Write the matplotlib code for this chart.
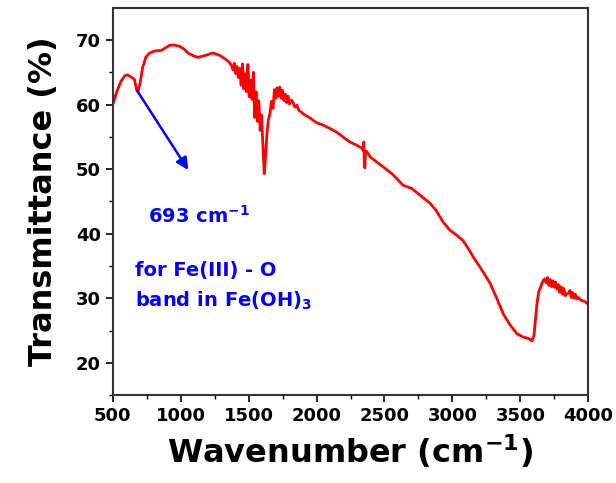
import numpy as np
import matplotlib
matplotlib.use("Agg")
import matplotlib.pyplot as plt

# FTIR spectrum (wavenumber cm-1, transmittance %)
wn = [500, 530, 560, 590, 610, 640, 660, 675, 685, 700, 721, 745, 773, 810, 859,
      890, 920, 960, 994, 1025, 1053, 1090, 1126, 1180, 1237, 1290, 1338,
      1360, 1375, 1385, 1395, 1405, 1415, 1425, 1435, 1445, 1455, 1465, 1475,
      1485, 1495, 1505, 1515, 1525, 1535, 1545, 1555, 1565, 1575, 1585, 1595,
      1605, 1615, 1625, 1635, 1645, 1657, 1668, 1680, 1690, 1700, 1710, 1720,
      1730, 1740, 1750, 1760, 1770, 1780, 1790, 1800, 1815, 1826, 1840, 1855,
      1870, 1885, 1900, 1920, 1940, 1960, 1974, 2000, 2050, 2099, 2150, 2200,
      2246, 2296, 2320, 2335, 2343, 2348, 2352, 2356, 2360, 2366, 2380, 2394,
      2450, 2500, 2560, 2637, 2701, 2760, 2836, 2880, 2932, 2983, 3030, 3079,
      3120, 3153, 3204, 3240, 3278, 3330, 3374, 3420, 3475, 3520, 3555, 3573,
      3585, 3600, 3610, 3622, 3635, 3647, 3659, 3670, 3680, 3690, 3700, 3710,
      3720, 3730, 3740, 3750, 3760, 3770, 3780, 3790, 3800, 3810, 3820, 3830,
      3843, 3855, 3865, 3875, 3885, 3895, 3905, 3917, 3930, 3945, 3960, 3975,
      3990, 4000]
trans = [60.0, 62.0, 63.6, 64.5, 64.6, 64.2, 63.9, 62.3, 62.0, 63.2, 65.8, 67.4,
         68.0, 68.3, 68.4, 68.8, 69.2, 69.2, 69.0, 68.6, 68.0, 67.6, 67.3, 67.6,
         68.0, 67.6, 66.9, 66.5, 66.0, 65.4, 66.4, 64.8, 65.9, 64.2, 65.6, 63.0,
         66.3, 62.4, 64.8, 62.0, 66.2, 61.2, 63.8, 60.8, 65.0, 58.0, 62.0, 57.4,
         60.6, 56.0, 58.4, 54.0, 49.3, 52.0, 55.5, 57.6, 58.6, 60.5, 59.4, 62.3,
         61.0, 62.6, 61.3, 62.7, 61.0, 62.2, 60.6, 61.6, 60.3, 61.3, 60.1, 60.7,
         60.4, 59.6, 59.9, 59.1, 58.9, 58.6, 58.3, 58.1, 57.8, 57.6, 57.2, 56.8,
         56.3, 55.7, 54.9, 54.2, 53.7, 53.4, 53.3, 52.9, 54.2, 50.5, 50.2, 52.4,
         52.8, 52.4, 51.9, 51.0, 50.2, 49.2, 47.5, 47.0, 46.0, 44.7, 43.6, 41.8,
         40.5, 39.8, 38.9, 37.6, 36.4, 34.8, 33.6, 32.3, 29.8, 27.6, 26.0, 24.5,
         24.0, 23.8, 23.6, 23.4, 24.2, 26.5, 29.1, 31.0, 31.6, 32.3, 32.8, 33.0,
         32.4, 33.2, 32.0, 32.9, 31.8, 32.7, 31.7, 32.5, 31.4, 32.1, 30.9, 31.8,
         30.6, 31.5, 30.4, 30.7, 30.8, 31.2, 30.1, 30.9, 30.0, 30.6, 29.9, 30.1,
         29.7, 29.6, 29.5, 29.2, 29.1]

fig, ax = plt.subplots(figsize=(6.16, 4.83), dpi=100)
fig.subplots_adjust(left=0.183, right=0.955, top=0.984, bottom=0.182)

ax.plot(wn, trans, color='red', lw=2)

ax.set_xlim(500, 4000)
ax.set_ylim(15, 75)
ax.set_xticks(np.arange(500, 4001, 500))
ax.set_yticks(np.arange(20, 71, 10))
ax.set_xticks(np.arange(750, 4000, 500), minor=True)
ax.set_yticks(np.arange(15, 75, 10), minor=True)
ax.tick_params(which='major', length=5, width=1.2, labelsize=13)
ax.tick_params(which='minor', length=3, width=1)
for lab in ax.get_xticklabels() + ax.get_yticklabels():
    lab.set_fontweight('bold')
for s in ax.spines.values():
    s.set_linewidth(1.5)
    s.set_color('#333333')

ax.set_xlabel('Wavenumber (cm$^{\\mathbf{-1}}$)', fontsize=23, fontweight='bold', labelpad=5)
ax.set_ylabel('Transmittance (%)', fontsize=23, fontweight='bold', labelpad=12)

ax.annotate('', xy=(1067, 49.5), xytext=(669, 62.5),
            arrowprops=dict(arrowstyle='-|>', color='blue', lw=1.8, mutation_scale=18))
ax.text(760, 42.8, '693 cm$^{\\mathbf{-1}}$', color='blue', fontsize=14,
        fontweight='bold', va='center')
ax.text(662, 34.3, 'for Fe(III) - O', color='blue', fontsize=14,
        fontweight='bold', va='center')
ax.text(662, 29.6, 'band in Fe(OH)$_{\\mathbf{3}}$', color='blue', fontsize=14,
        fontweight='bold', va='center')

plt.savefig('out.png', dpi=100)
